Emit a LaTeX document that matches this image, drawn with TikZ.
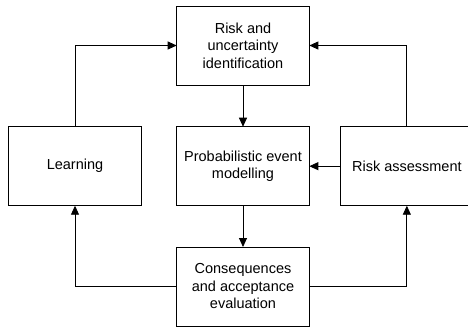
\documentclass[tikz,border=0pt]{standalone}
\usepackage{fontspec}
\setmainfont{Liberation Sans}
\usetikzlibrary{arrows.meta}
\begin{document}
\begin{tikzpicture}[x=1pt,y=-1pt,
  blk/.style={draw=black,line width=0.9pt,minimum width=132.6pt,minimum height=79pt,inner sep=2pt,outer sep=0pt,align=center,font=\fontsize{14.5}{17.5}\selectfont},
  con/.style={draw=black,line width=0.9pt,-{Triangle[length=9pt,width=8pt]}}]
\useasboundingbox (0,0) rectangle (468,327);
\node[blk] (top) at (243,45.5) {Risk and\\uncertainty\\identification};
\node[blk] (mid) at (243,166.2) {Probabilistic event\\modelling};
\node[blk] (learn) at (75,166.2) {Learning};
\node[blk] (risk) at (406.85,166.2) {Risk assessment};
\node[blk] (bot) at (243,286.5) {Consequences\\and acceptance\\evaluation};
\draw[con] (top) -- (mid);
\draw[con] (mid) -- (bot);
\draw[con] (risk.west) -- (mid.east);
\draw[con] (learn.north) |- (top.west);
\draw[con] (risk.north) |- (top.east);
\draw[con] (bot.west) -| (learn.south);
\draw[con] (bot.east) -| (risk.south);
\end{tikzpicture}
\end{document}
